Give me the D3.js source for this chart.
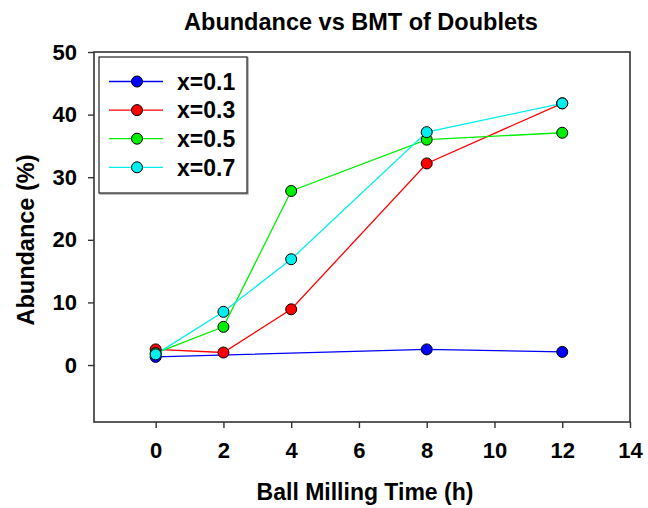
<!DOCTYPE html>
<html>
<head>
<meta charset="utf-8">
<script src="https://cdn.jsdelivr.net/npm/d3@7"></script>
<style>
  body { margin: 0; background: #fff; }
  text { font-family: "Liberation Sans", Arial, sans-serif; font-weight: bold; fill: #000; }
</style>
</head>
<body>
<div id="chart"></div>
<script>
// data
var seriesNames = ["x=0.1", "x=0.3", "x=0.5", "x=0.7"];
var seriesColors = ["#0000ff", "#ff0000", "#00ee00", "#00eeee"];
var timesBlue = [0, 8, 12];
var times = [0, 2, 4, 8, 12];
var valuesBlue = [1.3, 2.5, 2.1];
var valuesRed = [2.5, 2.0, 8.9, 32.2, 41.8];
var valuesGreen = [1.9, 6.1, 27.8, 36.0, 37.1];
var valuesCyan = [1.7, 8.5, 16.9, 37.2, 41.8];
var xTicks = [0, 2, 4, 6, 8, 10, 12, 14];
var yTicks = [0, 10, 20, 30, 40, 50];

var series = [
  { name: seriesNames[0], color: seriesColors[0], x: timesBlue, y: valuesBlue },
  { name: seriesNames[1], color: seriesColors[1], x: times, y: valuesRed },
  { name: seriesNames[2], color: seriesColors[2], x: times, y: valuesGreen },
  { name: seriesNames[3], color: seriesColors[3], x: times, y: valuesCyan }
];

var width = 648, height = 508;
var box = { left: 94, top: 52, right: 630, bottom: 422 };

var svg = d3.select("#chart").append("svg")
    .attr("width", width)
    .attr("height", height);

var x = d3.scaleLinear().domain([-1.82, 14]).range([box.left, box.right]);
var y = d3.scaleLinear().domain([-9.1, 50]).range([box.bottom, box.top]);

// frame
svg.append("rect")
    .attr("x", box.left)
    .attr("y", box.top)
    .attr("width", box.right - box.left)
    .attr("height", box.bottom - box.top)
    .attr("fill", "none")
    .attr("stroke", "#333")
    .attr("stroke-width", 1.6);

// axes
var xAxis = svg.append("g")
    .attr("transform", "translate(0," + box.bottom + ")")
    .call(d3.axisBottom(x).tickValues(xTicks).tickSize(6).tickPadding(14));
var yAxis = svg.append("g")
    .attr("transform", "translate(" + box.left + ",0)")
    .call(d3.axisLeft(y).tickValues(yTicks).tickSize(6).tickPadding(11));
[xAxis, yAxis].forEach(function(a){
    a.select(".domain").remove();
    a.selectAll("line").attr("stroke", "#333").attr("stroke-width", 1.4);
    a.selectAll("text").style("font-size", "22px").attr("font-family", null);
});

// lines and markers
var line = d3.line()
    .x(function(d){ return x(d[0]); })
    .y(function(d){ return y(d[1]); });

series.forEach(function(s){
    var pts = d3.zip(s.x, s.y);
    svg.append("path")
        .datum(pts)
        .attr("d", line)
        .attr("fill", "none")
        .attr("stroke", s.color)
        .attr("stroke-width", 1.3);
});
series.forEach(function(s){
    var pts = d3.zip(s.x, s.y);
    svg.append("g").selectAll("circle")
        .data(pts)
        .enter()
        .append("circle")
          .attr("cx", function(d){ return x(d[0]); })
          .attr("cy", function(d){ return y(d[1]); })
          .attr("r", 5.5)
          .attr("fill", s.color)
          .attr("stroke", "#000")
          .attr("stroke-width", 1);
});

// legend
var legend = svg.append("g");
legend.append("rect")
    .attr("x", 100).attr("y", 58)
    .attr("width", 148).attr("height", 136)
    .attr("fill", "none")
    .attr("stroke", "#aaa")
    .attr("stroke-width", 1.5);
legend.append("rect")
    .attr("x", 99).attr("y", 57)
    .attr("width", 148).attr("height", 136)
    .attr("fill", "#fff")
    .attr("stroke", "#222")
    .attr("stroke-width", 1.2);
var rows = legend.selectAll("g.row")
    .data(series)
    .enter()
    .append("g")
      .attr("class", "row")
      .attr("transform", function(d, i){ return "translate(0," + (81.5 + i * 28.6) + ")"; });
rows.append("line")
    .attr("x1", 109).attr("x2", 163)
    .attr("stroke", function(d){ return d.color; })
    .attr("stroke-width", 1.3);
rows.append("circle")
    .attr("cx", 137).attr("r", 5.5)
    .attr("fill", function(d){ return d.color; })
    .attr("stroke", "#000");
rows.append("text")
    .attr("x", 177).attr("dy", "0.36em")
    .style("font-size", "23px")
    .text(function(d){ return d.name; });

// titles
svg.append("text")
    .attr("x", 361).attr("y", 30)
    .attr("text-anchor", "middle")
    .style("font-size", "23.5px")
    .text("Abundance vs BMT of Doublets");
svg.append("text")
    .attr("x", 365).attr("y", 500)
    .attr("text-anchor", "middle")
    .style("font-size", "23px")
    .text("Ball Milling Time (h)");
svg.append("text")
    .attr("transform", "translate(34,240) rotate(-90)")
    .attr("text-anchor", "middle")
    .style("font-size", "23.5px")
    .text("Abundance (%)");
</script>
</body>
</html>
